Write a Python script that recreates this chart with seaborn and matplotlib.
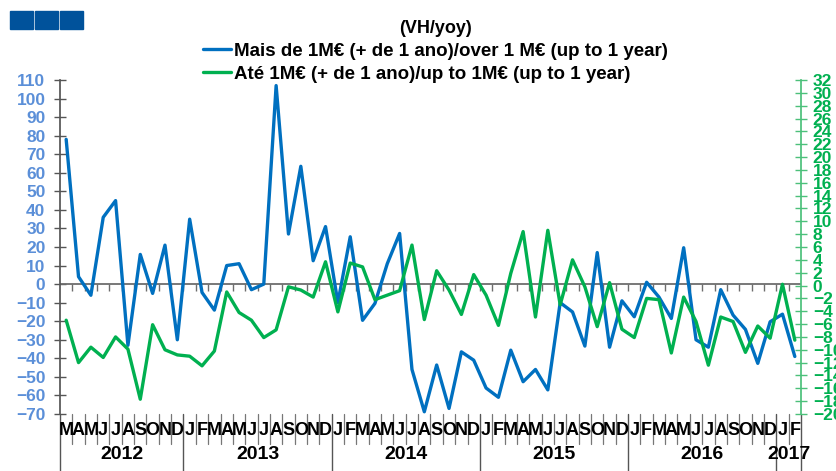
import numpy as np
import pandas as pd
import matplotlib
matplotlib.use('Agg')
import matplotlib.pyplot as plt
import matplotlib.transforms as mtransforms
from matplotlib.patches import Rectangle
import seaborn as sns

# ── Data (Mar 2012 .. Feb 2017, monthly, yoy %) ───────────────────────
month_labels = (['M', 'A', 'M', 'J', 'J', 'A', 'S', 'O', 'N', 'D']
                + ['J', 'F', 'M', 'A', 'M', 'J', 'J', 'A', 'S', 'O', 'N', 'D'] * 4
                + ['J', 'F'])
years = ['2012', '2013', '2014', '2015', '2016', '2017']
months_in_year = [10, 12, 12, 12, 12, 2]

over_1m = [78, 4, -6, 36, 45, -33, 16, -5, 21, -30,
           35, -4.5, -14, 10, 11, -3, 0, 107, 27, 63.5,
           12.6, 31, -10, 25.5, -19.5, -10.4, 11, 27.3, -46, -68.8,
           -43.6, -67, -36.5, -41, -56, -61, -35.6, -52.6, -46, -57,
           -10, -15, -33.4, 17, -34, -9, -17.6, 1, -7, -18.5,
           19.6, -30, -34, -3, -16.7, -24.4, -42.7, -20.3, -16.2, -39]

upto_1m = [-5.4, -12, -9.6, -11.2, -8, -9.9, -17.7, -6.1, -10, -10.8,
           -11, -12.5, -10.2, -1, -4.2, -5.4, -8.1, -6.9, -0.2, -0.7,
           -1.8, 3.7, -4.1, 3.5, 2.9, -2.2, -1.5, -0.8, 6.3, -5.3,
           2.3, -0.7, -4.5, 1.7, -1.5, -6.2, 1.9, 8.4, -4.9, 8.6,
           -3, 4, -0.2, -6.4, 0.45, -6.8, -8.1, -2, -2.2, -10.5,
           -1.8, -5.6, -12.4, -4.9, -5.6, -10.4, -6.3, -8.2, 0.2, -8.5]

label_over = 'Mais de 1M€ (+ de 1 ano)/over 1 M€ (up to 1 year)'
label_upto = 'Até 1M€ (+ de 1 ano)/up to 1M€ (up to 1 year)'

df = pd.DataFrame({'idx': np.arange(len(month_labels)),
                   'over': over_1m, 'upto': upto_1m})

BLUE = '#0070C0'
GREEN = '#00B050'

sns.set_theme(style='white')
plt.rcParams['font.family'] = ['Liberation Sans', 'DejaVu Sans']
plt.rcParams['font.weight'] = 'bold'
plt.rcParams['text.color'] = 'black'

fig = plt.figure(figsize=(8.37, 4.71), dpi=100)
ax = fig.add_axes([60 / 837, 1 - 414 / 471, 741 / 837, 334 / 471])
ax2 = ax.twinx()

sns.lineplot(data=df, x='idx', y='over', ax=ax, color=BLUE, lw=2.4, label=label_over, legend=False)
sns.lineplot(data=df, x='idx', y='upto', ax=ax2, color=GREEN, lw=2.4, label=label_upto, legend=False)

n = len(month_labels)
ax.set_xlim(-0.5, n - 0.5)
ax.set_ylim(-70, 110)
ax2.set_ylim(-20, 32)
ax.set_xticks([])
ax.set_xlabel('')
ax.set_ylabel('')
ax2.set_ylabel('')

for s in ['top', 'bottom', 'right']:
    ax.spines[s].set_visible(False)
for s in ['top', 'bottom', 'left']:
    ax2.spines[s].set_visible(False)
ax.spines['left'].set_color('#555555')
ax2.spines['right'].set_color('#4CC07A')

ax.set_yticks(np.arange(-70, 111, 10))
ax.tick_params(axis='y', direction='inout', length=9, width=1, color='#555555',
               labelcolor='#5B8FD8', labelsize=12.5, pad=6, left=True)
ax2.set_yticks(np.arange(-20, 33, 2))
ax2.tick_params(axis='y', direction='inout', length=9, width=1, color='#4CC07A',
                labelcolor=GREEN, labelsize=12.5, pad=4, right=True)
for t in ax.get_yticklabels() + ax2.get_yticklabels():
    t.set_fontweight('bold')

# zero line with small month ticks
ax.axhline(0, color='#6d6d6d', lw=1.3, zorder=1)
bounds = np.arange(1, n) - 0.5
ax.plot(bounds, np.zeros(len(bounds)), ls='none', marker=3, ms=5, mew=1,
        color='#6d6d6d', zorder=1)

# month / year axis below
trans = mtransforms.blended_transform_factory(ax.transData, ax.transAxes)
fig_bottom = -(471 - 414) / 334
year_starts = np.concatenate([[0], np.cumsum(months_in_year)])
for b in bounds:
    if (b + 0.5) in year_starts:
        continue
    ax.plot([b, b], [0, -0.09], transform=trans, color='#777777', lw=0.9, clip_on=False)
for b in year_starts:
    ax.plot([b - 0.5, b - 0.5], [0, fig_bottom], transform=trans, color='#555555',
            lw=1.0, clip_on=False)
for i, m in enumerate(month_labels):
    ax.text(i, -0.05, m, transform=trans, ha='center', va='center',
            fontsize=13, fontweight='bold', color='black')
for k, y in enumerate(years):
    mid = (year_starts[k] + year_starts[k + 1] - 1) / 2
    ax.text(mid, -0.12, y, transform=trans, ha='center', va='center',
            fontsize=14, fontweight='bold', color='black')

# legend with title
h1, l1 = ax.get_legend_handles_labels()
h2, l2 = ax2.get_legend_handles_labels()
leg = fig.legend(h1 + h2, l1 + l2, loc='upper center', bbox_to_anchor=(0.52, 0.985),
                 frameon=False, title='(VH/yoy)', fontsize=13.5, handlelength=1.5,
                 handletextpad=0.15, labelspacing=0.3, borderpad=0.2)
leg.get_title().set_fontweight('bold')
leg.get_title().set_fontsize(13)
leg.get_title().set_color('black')
for t in leg.get_texts():
    t.set_fontweight('bold')
    t.set_color('black')

# three squares top-left
for k in range(3):
    fig.patches.append(Rectangle(((10 + 25 * k) / 837, 1 - 29 / 471), 23 / 837, 18 / 471,
                                 transform=fig.transFigure, color='#00529B'))

fig.savefig('out.png', dpi=100)
